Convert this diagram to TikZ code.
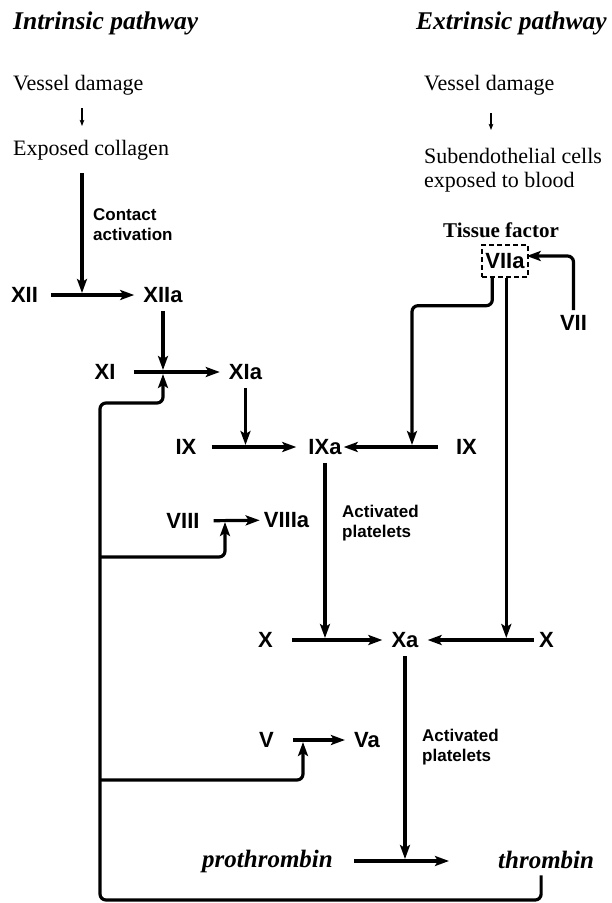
\documentclass[tikz,border=0pt]{standalone}
\usepackage{fontspec}
\setmainfont{Liberation Serif}
\setsansfont{Liberation Sans}
\usetikzlibrary{arrows.meta,calc}
\begin{document}
\begin{tikzpicture}[x=1pt,y=-1pt,
  fac/.style={font=\fontsize{22}{24}\selectfont\sffamily\bfseries, inner xsep=9pt, inner ysep=8pt},
  small/.style={font=\fontsize{17}{20}\selectfont\sffamily\bfseries, inner sep=0pt, anchor=base west, align=left},
  serif/.style={font=\fontsize{22}{24}\selectfont\rmfamily, inner sep=0pt, anchor=base west, align=left},
  ttl/.style={font=\fontsize{25.5}{28}\selectfont\rmfamily\bfseries\itshape, inner sep=0pt, anchor=base west},
  prod/.style={font=\fontsize{25}{28}\selectfont\rmfamily\bfseries\itshape, inner sep=0pt, anchor=base west},
  arr/.style={line width=3.2pt, -{Stealth[length=14pt,width=10pt,inset=3pt]}},
  thinarr/.style={line width=1.2pt, -{Stealth[length=6pt,width=4.5pt,inset=1pt]}},
  rc/.style={rounded corners=6pt},
]
\useasboundingbox (0,0) rectangle (612,903);

% titles and texts
\node[ttl] (tin) at (13,29) {Intrinsic pathway};
\node[ttl] (tex) at (416,29) {Extrinsic pathway};
\node[serif] (vd1) at (13,90) {Vessel damage};
\node[serif] (ec) at (13,155) {Exposed collagen};
\node[serif] (vd2) at (424,90) {Vessel damage};
\node[serif] (sub) at (424,187) {Subendothelial cells\\exposed to blood};
\node[small] (ca) at (93,240) {Contact\\activation};
\node[small] (ap1) at (342,537) {Activated\\platelets};
\node[small] (ap2) at (422,761) {Activated\\platelets};
\node[font=\fontsize{21}{24}\selectfont\rmfamily\bfseries, inner sep=0pt, anchor=base west] (tf) at (443,237) {Tissue factor};
\node[prod] (pro) at (202,867) {prothrombin};
\node[prod] (thr) at (498,868) {thrombin};

% factors
\node[fac] (XII) at (24.5,295) {XII};
\node[fac] (XIIa) at (163,295) {XIIa};
\node[fac] (XI) at (105,372) {XI};
\node[fac] (XIa) at (245.5,372) {XIa};
\node[fac] (IXl) at (186,447) {IX};
\node[fac] (IXa) at (325,447) {IXa};
\node[fac] (IXr) at (466.5,447) {IX};
\node[fac] (VIII) at (183,521) {VIII};
\node[fac] (VIIIa) at (286.5,520) {VIIIa};
\node[fac] (Xl) at (265.5,640) {X};
\node[fac] (Xa) at (405,640) {Xa};
\node[fac] (Xr) at (546.5,640) {X};
\node[fac] (V) at (266.5,740) {V};
\node[fac] (Va) at (367,740) {Va};
\node[fac] (VII) at (573.5,323) {VII};
\node[font=\fontsize{22}{24}\selectfont\sffamily\bfseries, draw, dashed, dash pattern=on 5pt off 3pt, line width=1.4pt, minimum width=46pt, minimum height=32pt, inner sep=0pt] (VIIa) at (505,261) {VIIa};

% small thin arrows
\coordinate (s1) at (82,108);
\coordinate (s1e) at (82,126);
\draw[thinarr] (s1) -- (s1e);
\coordinate (s2) at (491,113);
\coordinate (s2e) at (491,130);
\draw[thinarr] (s2) -- (s2e);

% intrinsic cascade
\coordinate (cst) at (82,173);
\draw[arr, shorten >=2pt] (cst) -- (cst |- XII);
\draw[arr, shorten <=4pt] (XII) -- (XIIa);
\draw[arr, shorten >=2pt] (XIIa.south) -- (XIIa.south |- XI);
\draw[arr, shorten <=9pt] (XI) -- (XIa);
\draw[arr, shorten >=2pt] (XIa.south) -- (XIa.south |- IXl);
\draw[arr, shorten <=6pt, shorten >=3pt] (IXl) -- (IXa);
\draw[arr, shorten <=9pt, shorten >=-7pt] (IXr) -- (IXa);
\draw[arr, shorten <=5pt, shorten >=-5pt] (VIII) -- (VIIIa);
\draw[arr, shorten >=2pt] (IXa.south) -- (IXa.south |- Xl);
\draw[arr, shorten <=10pt] (Xl) -- (Xa);
\draw[arr, shorten <=-4pt] (Xr) -- (Xa);
\draw[arr, shorten <=10pt] (V) -- (Va);
\draw[arr, shorten >=2pt] (Xa.south) -- (Xa.south |- pro.east);
\draw[arr] ([xshift=21pt]pro.east) -- ([xshift=-49pt]pro.east -| thr.west);

% extrinsic
\coordinate (v1) at ([xshift=11pt]VIIa.south west);
\coordinate (v2) at ([xshift=25pt]VIIa.south west);
\coordinate (j1) at (412,447);
\draw[arr, rc, shorten >=2pt] (v1) -- ++(0,28) -| (j1);
\draw[arr, shorten >=2pt] (v2) -- (v2 |- Xr);
\draw[arr, rc, shorten <=-3pt, shorten >=-2pt] (VII.north) |- ([yshift=5pt]VIIa.east);

% thrombin feedback
\coordinate (fbc) at (100,900);
\coordinate (fbt) at (100,403);
\coordinate (b1) at (100,557);
\coordinate (t1) at (225,520);
\coordinate (b2) at (100,780);
\coordinate (t2) at (303,740);
\draw[arr, rc, shorten <=7pt, shorten >=2pt] ([xshift=-5pt]thr.south) |- (fbc) -- (fbt) -| (XIIa.south |- XI);
\draw[arr, rc, shorten >=2pt] (b1) -| (t1);
\draw[arr, rc, shorten >=2pt] (b2) -| (t2);
\end{tikzpicture}
\end{document}
